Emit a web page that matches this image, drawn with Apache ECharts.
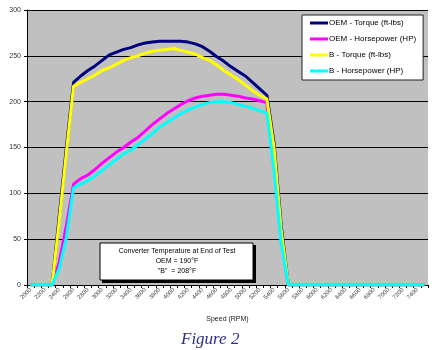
<!DOCTYPE html>
<html>
<head>
<meta charset="utf-8">
<script src="https://cdn.jsdelivr.net/npm/echarts@6/dist/echarts.min.js"></script>
<style>
  html, body { margin: 0; padding: 0; background: #fff; }
  #chart { width: 438px; height: 350px; }
</style>
</head>
<body>
<div id="chart"></div>
<script>
// Engine speed categories (RPM), one every 100 RPM
const speedRpm = ['2000','2100','2200','2300','2400','2500','2600','2700','2800','2900',
  '3000','3100','3200','3300','3400','3500','3600','3700','3800','3900',
  '4000','4100','4200','4300','4400','4500','4600','4700','4800','4900',
  '5000','5100','5200','5300','5400','5500','5600','5700','5800','5900',
  '6000','6100','6200','6300','6400','6500','6600','6700','6800','6900',
  '7000','7100','7200','7300','7400','7500'];

const yTicks = [0, 50, 100, 150, 200, 250, 300];

const seriesNames = ['OEM - Torque (ft-lbs)', 'OEM - Horsepower (HP)', 'B - Torque (ft-lbs)', 'B - Horsepower (HP)'];

const oemTorque = [0,0,0,0,75,150,221,
  228,234,239,245,251,254,257,259,262,264,265,266,266,266,266,265,263,260,255,249,244,238,233,228,221,214,207,
  155,65,
  0,0,0,0,0,0,0,0,0,0,0,0,0,0,0,0,0,0,0,0];

const oemHorsepower = [0,0,0,0,25,65,110,
  116,120,126,133,139,145,150,156,161,168,175,181,187,192,197,201,204,206,207,208,208,207,206,204,203,201,199,
  130,50,
  0,0,0,0,0,0,0,0,0,0,0,0,0,0,0,0,0,0,0,0];

const bTorque = [0,0,0,0,70,145,217,
  221,225,229,234,237,241,245,248,250,253,255,256,257,258,256,254,252,248,245,240,234,229,224,218,212,207,203,
  150,60,
  0,0,0,0,0,0,0,0,0,0,0,0,0,0,0,0,0,0,0,0];

const bHorsepower = [0,0,0,0,18,52,106,
  110,114,119,125,131,137,143,147,153,159,165,172,177,182,187,191,194,197,199,200,200,199,197,195,193,190,188,
  125,45,
  0,0,0,0,0,0,0,0,0,0,0,0,0,0,0,0,0,0,0,0];

const lineColors = ['#000080', '#ff00ff', '#ffff00', '#00ffff'];
const seriesData = [oemTorque, oemHorsepower, bTorque, bHorsepower];

const noteLines = ['Converter Temperature at End of Test', 'OEM = 190°F', '"B"  = 208°F'];

const chart = echarts.init(document.getElementById('chart'));
const font = 'Arial, "Liberation Sans", sans-serif';

chart.setOption({
  animation: false,
  backgroundColor: '#ffffff',
  title: {
    text: 'Figure 2',
    left: 176,
    top: 326,
    textStyle: { fontFamily: '"Liberation Serif", "DejaVu Serif", serif', fontStyle: 'italic', fontWeight: 'normal', fontSize: 17, color: '#2e2e8c' }
  },
  grid: {
    left: 27, right: 10, top: 10, bottom: 65,
    show: true, backgroundColor: '#c0c0c0', borderWidth: 0
  },
  legend: {
    orient: 'vertical',
    left: 302, top: 15,
    padding: [3, 7, 4, 8],
    backgroundColor: '#ffffff',
    borderColor: '#222',
    borderWidth: 1,
    itemWidth: 18, itemHeight: 3, itemGap: 6,
    icon: 'rect',
    textStyle: { fontFamily: font, fontSize: 8, color: '#000', padding: [0, 0, 0, -4], lineHeight: 10 },
    data: seriesNames
  },
  xAxis: {
    type: 'category',
    data: speedRpm,
    boundaryGap: true,
    name: 'Speed (RPM)',
    nameLocation: 'middle',
    nameGap: 31,
    nameTextStyle: { fontFamily: font, fontSize: 7, color: '#222' },
    axisLine: { lineStyle: { color: '#000', width: 1 } },
    axisTick: { show: true, interval: 0, length: 3, lineStyle: { color: '#000' } },
    axisLabel: { interval: 1, rotate: 45, fontFamily: font, fontSize: 6, color: '#444', margin: 4 },
    splitLine: { show: false }
  },
  yAxis: {
    type: 'value',
    min: yTicks[0], max: yTicks[yTicks.length - 1], interval: 50,
    axisLine: { show: true, lineStyle: { color: '#000', width: 1 } },
    axisTick: { show: true, length: 3, lineStyle: { color: '#000' } },
    axisLabel: { fontFamily: font, fontSize: 7, color: '#333', margin: 6 },
    splitLine: { show: true, lineStyle: { color: '#000', width: 1 } }
  },
  series: seriesNames.map((name, k) => ({
    name: name,
    type: 'line',
    data: seriesData[k],
    symbol: 'none',
    lineStyle: { color: lineColors[k], width: 3 },
    itemStyle: { color: lineColors[k] }
  })),
  graphic: [
    { type: 'rect', shape: { x: 102, y: 245, width: 154, height: 38 }, style: { fill: '#000' }, z: 100 },
    { type: 'rect', shape: { x: 100, y: 243, width: 153, height: 37 }, style: { fill: '#fff', stroke: '#000', lineWidth: 1 }, z: 101 },
    { type: 'text', x: 177, y: 248, z: 102,
      style: { text: noteLines[0], font: '7px ' + font, fill: '#000', textAlign: 'center' } },
    { type: 'text', x: 177, y: 258, z: 102,
      style: { text: noteLines[1], font: '7px ' + font, fill: '#000', textAlign: 'center' } },
    { type: 'text', x: 177, y: 268, z: 102,
      style: { text: noteLines[2], font: '7px ' + font, fill: '#000', textAlign: 'center' } }
  ]
});
</script>
</body>
</html>
